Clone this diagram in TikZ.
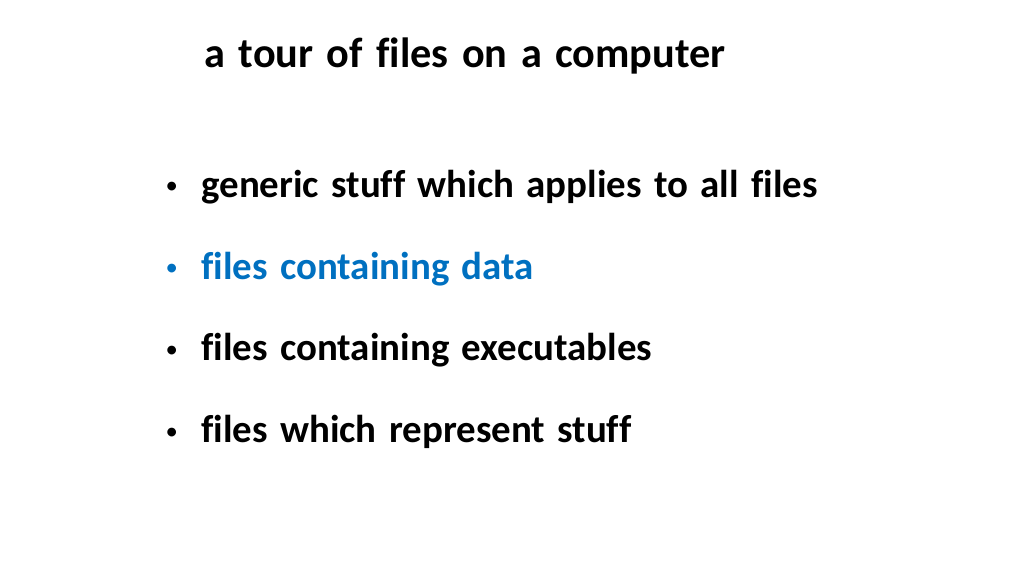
\documentclass[tikz,border=0pt]{standalone}
\usepackage{fontspec}
\setmainfont[Ligatures=NoCommon, WordSpace=1.4]{Carlito}
\definecolor{itemblue}{HTML}{0070C0}
\begin{document}
\begin{tikzpicture}[
    item/.style={anchor=base west, inner sep=0pt, font=\bfseries\fontsize{17.3}{20}\selectfont},
    dot/.style={anchor=base west, inner sep=0pt, font=\fontsize{11}{13}\selectfont}
]
\useasboundingbox (0,0) rectangle (16,9);

% Title
\node[anchor=base west, inner sep=0pt, font=\bfseries\fontsize{18.8}{22}\selectfont] (title) at (3.19,7.95) {a tour of files on a computer};

% Items
\node[item] (generic) at (3.14,5.92) {generic stuff which applies to all files};
\node[item, text=itemblue] (data) at (3.14,4.64) {files containing data};
\node[item] (exec) at (3.14,3.36) {files containing executables};
\node[item] (repr) at (3.14,2.08) {files which represent stuff};

% Bullets
\node[dot] at (2.58,5.97) {•};
\node[dot, text=itemblue] at (2.58,4.69) {•};
\node[dot] at (2.58,3.41) {•};
\node[dot] at (2.58,2.13) {•};
\end{tikzpicture}
\end{document}
